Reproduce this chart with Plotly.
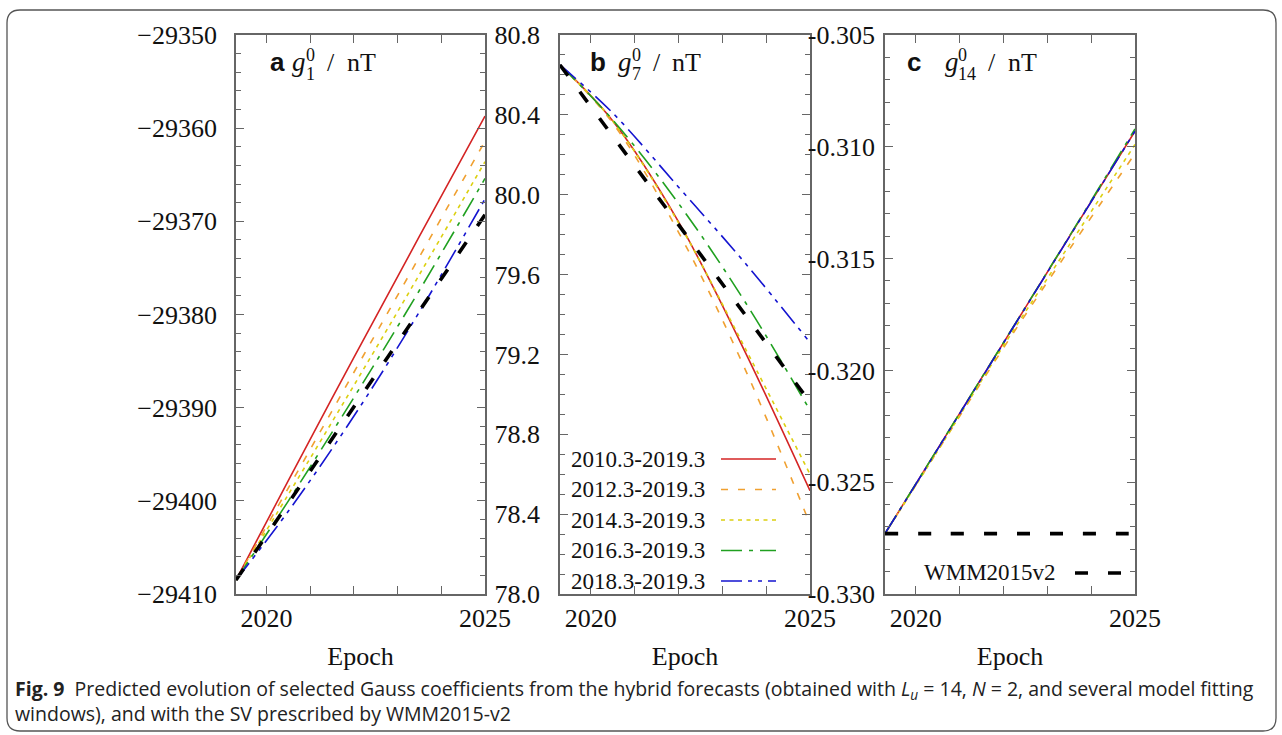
import plotly.graph_objects as go

# ---------------- data ----------------
epochs = [2019.3, 2020.5, 2022.0, 2023.5, 2025.0]
series_names = ["2010.3-2019.3", "2012.3-2019.3", "2014.3-2019.3",
                "2016.3-2019.3", "2018.3-2019.3"]
wmm_name = "WMM2015v2"

# panel a: g_1^0 / nT
g10_2010 = [-29408.5, -29397.8, -29384.6, -29371.6, -29358.7]
g10_2012 = [-29408.5, -29398.6, -29386.2, -29373.8, -29361.4]
g10_2014 = [-29408.5, -29399.3, -29387.6, -29375.7, -29363.6]
g10_2016 = [-29408.5, -29400.0, -29388.9, -29377.4, -29365.4]
g10_2018 = [-29408.5, -29401.1, -29390.9, -29379.7, -29367.6]
g10_wmm = [-29408.5, -29400.25, -29389.9, -29379.6, -29369.3]

# panel b: g_7^0 / nT
g70_2010 = [80.65, 80.37, 79.865, 79.222, 78.517]
g70_2012 = [80.65, 80.36, 79.813, 79.136, 78.35]
g70_2014 = [80.65, 80.37, 79.86, 79.24, 78.60]
g70_2016 = [80.65, 80.375, 79.957, 79.47, 78.92]
g70_2018 = [80.65, 80.41, 80.039, 79.663, 79.26]
g70_wmm = [80.65, 80.294, 79.850, 79.405, 78.96]

# panel c: g_14^0 / nT
g140_2010 = [-0.3273, -0.32351, -0.31877, -0.31403, -0.3093]
g140_2012 = [-0.3273, -0.3236, -0.3190, -0.3146, -0.3103]
g140_2014 = [-0.3273, -0.3236, -0.3189, -0.3144, -0.3099]
g140_2016 = [-0.3273, -0.32350, -0.31876, -0.31401, -0.3092]
g140_2018 = [-0.3273, -0.32352, -0.31878, -0.31404, -0.3093]
g140_wmm = [-0.3273, -0.3273, -0.3273, -0.3273, -0.3273]

year_ticks = [2020, 2025]
year_labels = ["2020", "2025"]
a_ticks = [-29410, -29400, -29390, -29380, -29370, -29360, -29350]
b_ticks = [78.0, 78.4, 78.8, 79.2, 79.6, 80.0, 80.4, 80.8]
c_ticks = [-0.330, -0.325, -0.320, -0.315, -0.310, -0.305]

# ---------------- styles ----------------
W, H = 1282, 735
colors = ["#d42424", "#f0a030", "#dcd010", "#20a020", "#1414d0"]
dashes = ["solid", "7px,10px", "4px,4.5px", "21px,7px,4px,7px",
          "21px,6px,4px,6px,4px,6px"]
wmm_dash = "13px,20px"
serif = "Liberation Serif"


def px(x):
    return x / W


def py(y):
    return 1 - y / H


fig = go.Figure()

panels = [
    ("x", "y", [g10_2010, g10_2012, g10_2014, g10_2016, g10_2018], g10_wmm),
    ("x2", "y2", [g70_2010, g70_2012, g70_2014, g70_2016, g70_2018], g70_wmm),
    ("x3", "y3", [g140_2010, g140_2012, g140_2014, g140_2016, g140_2018], g140_wmm),
]
for xa, ya, sers, wmm in panels:
    for name, vals, col, dsh in zip(series_names, sers, colors, dashes):
        fig.add_trace(go.Scatter(x=epochs, y=vals, mode="lines", name=name,
                                 xaxis=xa, yaxis=ya, showlegend=False,
                                 line=dict(color=col, width=1.6, dash=dsh,
                                           shape="spline")))
    fig.add_trace(go.Scatter(x=epochs, y=wmm, mode="lines", name=wmm_name,
                             xaxis=xa, yaxis=ya, showlegend=False,
                             line=dict(color="black", width=3.6, dash=wmm_dash,
                                       shape="spline")))

axcol = "#666666"
common = dict(showline=True, linecolor=axcol, linewidth=1.6, mirror="ticks",
              ticks="inside", ticklen=8, tickwidth=1.4, tickcolor=axcol,
              showgrid=False, zeroline=False, automargin=False,
              tickfont=dict(family=serif, size=26, color="#111111"))

doms = [(236, 485), (560, 810), (885, 1135)]
ydom = [py(594), py(35)]
layout = dict(width=W, height=H,
              margin=dict(l=0, r=0, t=0, b=0, pad=0, autoexpand=False),
              autosize=False,
              paper_bgcolor="white", plot_bgcolor="white",
              font=dict(family=serif, size=26, color="#111111"),
              showlegend=False)

xnames = ["xaxis", "xaxis2", "xaxis3"]
ynames = ["yaxis", "yaxis2", "yaxis3"]
yinfo = [
    (a_ticks, ["\u2212" + str(abs(v)) for v in a_ticks], [-29410, -29350], -29410, 2, 12),
    (b_ticks, ["%.1f" % v for v in b_ticks], [78.0, 80.8], 78.0, 0.1, 13),
    (c_ticks, ["-%.3f" % abs(v) for v in c_ticks], [-0.330, -0.305], -0.330, 0.001, 3),
]
for i in range(3):
    d0, d1 = doms[i]
    xa = dict(common)
    xa.update(domain=[px(d0), px(d1)], range=[2019.3, 2025], tickmode="array",
              tickvals=year_ticks, ticktext=year_labels, ticklabelstandoff=0,
              minor=dict(ticks="inside", ticklen=8, tickwidth=1.4, tickcolor=axcol,
                         tickmode="linear", tick0=2020, dtick=1, showgrid=False),
              title=dict(text="Epoch", font=dict(family=serif, size=26), standoff=15),
              anchor="y" if i == 0 else "y%d" % (i + 1))
    layout[xnames[i]] = xa
    tv, tt, rng, t0, mdt, so = yinfo[i]
    yax = dict(common)
    yax.update(domain=ydom, range=rng, tickmode="array", tickvals=tv, ticktext=tt,
               ticklabelstandoff=so,
               minor=dict(ticks="inside", ticklen=5, tickwidth=1.2, tickcolor=axcol,
                          tickmode="linear", tick0=t0, dtick=mdt, showgrid=False),
               anchor="x" if i == 0 else "x%d" % (i + 1))
    layout[ynames[i]] = yax

fig.update_layout(**layout)

# ---------------- panel titles ----------------
ann = []


def txt(x, y, s, size=26, family=serif, anchor="left"):
    ann.append(dict(x=px(x), y=py(y), xref="paper", yref="paper", text=s,
                    showarrow=False, xanchor=anchor, yanchor="middle",
                    font=dict(family=family, size=size, color="#111111")))


titles = [
    # letter_x, g_x, supsub_x, slash_x, nT_x, sub text
    (268, 290, 304, 325, 345, "a", "1"),
    (588, 616, 630, 651, 670, "b", "7"),
    (905, 943, 956, 986, 1006, "c", "14"),
]
for lx, gx, sx, slx, nx, letter, sub in titles:
    txt(lx, 62, "<b>%s</b>" % letter, size=26, family="Liberation Sans")
    txt(gx, 62, "<i>g</i>", size=27)
    txt(sx, 55, "0", size=18)
    txt(sx, 74, sub, size=18)
    txt(slx, 62, "/", size=26)
    txt(nx, 62, "nT", size=26)

# ---------------- legends (drawn manually, sample after label) ----------------
shapes = []
leg_rows = [459, 489.5, 520, 550.5, 581]
for name, col, dsh, yy in zip(series_names, colors, dashes, leg_rows):
    txt(707, yy, name, size=23, anchor="right")
    shapes.append(dict(type="line", xref="paper", yref="paper",
                       x0=px(721), x1=px(776), y0=py(yy), y1=py(yy),
                       line=dict(color=col, width=1.6, dash=dsh)))
txt(1058, 572, wmm_name, size=23, anchor="right")
shapes.append(dict(type="line", xref="paper", yref="paper",
                   x0=px(1075), x1=px(1121), y0=py(573), y1=py(573),
                   line=dict(color="black", width=3.6, dash=wmm_dash)))

# ---------------- caption ----------------
caption = ("<b>Fig. 9</b>  Predicted evolution of selected Gauss coefficients from the "
           "hybrid forecasts (obtained with <i>L<sub>u</sub></i> = 14, <i>N</i> = 2, "
           "and several model fitting<br>windows), and with the SV prescribed by WMM2015-v2")
ann.append(dict(x=px(13), y=py(701), xref="paper", yref="paper", text=caption,
                showarrow=False, xanchor="left", yanchor="middle", align="left",
                font=dict(family="Open Sans", size=19.5, color="#222222")))

# ---------------- rounded border ----------------
x0, y0, x1, y1, r = 7, 10, 1276, 731, 13
path = ("M {a},{b} L {c},{b} Q {d},{b} {d},{e} L {d},{f} Q {d},{g} {c},{g} "
        "L {a},{g} Q {h},{g} {h},{f} L {h},{e} Q {h},{b} {a},{b} Z").format(
    a=px(x0 + r), b=py(y0), c=px(x1 - r), d=px(x1), e=py(y0 + r),
    f=py(y1 - r), g=py(y1), h=px(x0))
shapes.append(dict(type="path", xref="paper", yref="paper", path=path,
                   line=dict(color="#555555", width=1.3)))

fig.update_layout(annotations=ann, shapes=shapes)
fig.write_html("out.html",
               config={"displayModeBar": False, "responsive": False},
               post_script="document.body.style.margin='0';"
                           "document.body.style.overflow='hidden';"
                           "document.documentElement.style.overflow='hidden';")
